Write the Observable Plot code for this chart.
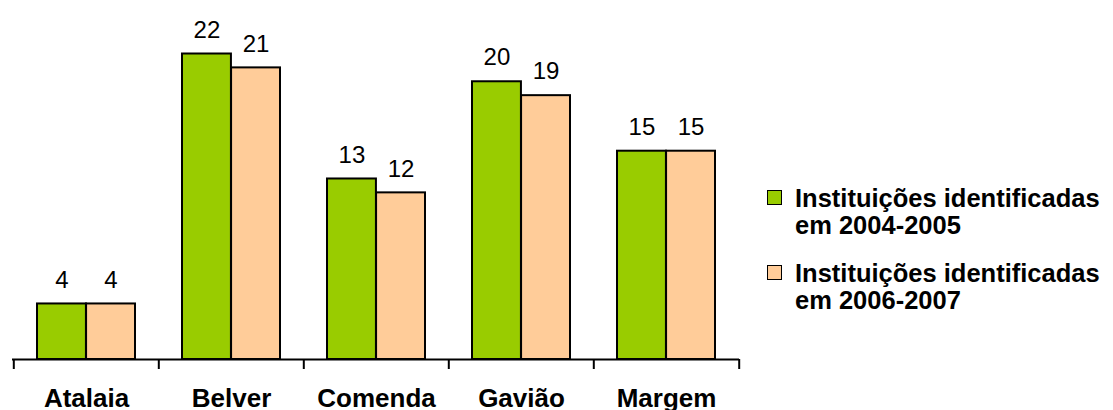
<!DOCTYPE html>
<html>
<head>
<meta charset="utf-8">
<script src="https://cdn.jsdelivr.net/npm/d3@7"></script>
<script src="https://cdn.jsdelivr.net/npm/@observablehq/plot@0.6"></script>
<style>
  html, body { margin: 0; padding: 0; background: #fff; }
  #wrap { position: relative; width: 1113px; height: 410px; overflow: hidden; font-family: "Liberation Sans", Arial, sans-serif; }
  #legend { position: absolute; left: 767px; top: 185px; font: bold 25.5px "Liberation Sans", Arial, sans-serif; line-height: 27px; color: #000; }
  .item { position: relative; padding-left: 28px; margin-bottom: 21px; white-space: nowrap; }
  .sw { position: absolute; left: 0; top: 5px; width: 13px; height: 13px; border: 1.5px solid #000; }
</style>
</head>
<body>
<div id="wrap"><div id="legend"></div></div>
<script>
const categories = ["Atalaia", "Belver", "Comenda", "Gavião", "Margem"];
const seriesNames = ["Instituições identificadas em 2004-2005", "Instituições identificadas em 2006-2007"];
const values2004 = [4, 22, 13, 20, 15];
const values2006 = [4, 21, 12, 19, 15];
const seriesColors = ["#99CC00", "#FFCC99"];

const data = categories.map((c, i) => ({category: c, v1: values2004[i], v2: values2006[i]}));

const W = 1113, H = 410;
const mLeft = 12, mRight = 374, mTop = 53.5, mBottom = 51;
const padIn = 0.325, padOut = 0.1625;

let bw, step;
try {
  const xs = Plot.scale({x: {type: "band", domain: categories, range: [mLeft, W - mRight], paddingInner: padIn, paddingOuter: padOut}});
  bw = xs.bandwidth; step = xs.step;
} catch (e) {}
if (!(bw > 0)) {
  step = (W - mLeft - mRight) / (categories.length - padIn + 2 * padOut);
  bw = step * (1 - padIn);
}

const plot = Plot.plot({
  width: W,
  height: H,
  marginLeft: mLeft,
  marginRight: mRight,
  marginTop: mTop,
  marginBottom: mBottom,
  style: {fontFamily: "'Liberation Sans', Arial, sans-serif", fontSize: "26px", fontWeight: "bold", color: "#000", background: "transparent", overflow: "visible"},
  x: {domain: categories, paddingInner: padIn, paddingOuter: padOut, align: 0.5, tickSize: 0, tickPadding: 29, label: null},
  y: {domain: [0, 22], axis: null},
  marks: [
    Plot.barY(data, {x: "category", y: "v1", fill: seriesColors[0], stroke: "#000", strokeWidth: 2, insetRight: bw / 2}),
    Plot.barY(data, {x: "category", y: "v2", fill: seriesColors[1], stroke: "#000", strokeWidth: 2, insetLeft: bw / 2}),
    Plot.ruleY([0], {stroke: "#000", strokeWidth: 2}),
    Plot.ruleX(categories, {x: d => d, y1: 0, y2: 0, dx: -step / 2, insetBottom: -10, stroke: "#000", strokeWidth: 2}),
    Plot.ruleX(categories.slice(-1), {x: d => d, y1: 0, y2: 0, dx: step / 2, insetBottom: -10, stroke: "#000", strokeWidth: 2}),
    Plot.text(data, {x: "category", y: "v1", text: d => String(d.v1), dx: -bw / 4, dy: -24, fontSize: 24, fontWeight: "normal", fill: "#000"}),
    Plot.text(data, {x: "category", y: "v2", text: d => String(d.v2), dx: bw / 4, dy: -24, fontSize: 24, fontWeight: "normal", fill: "#000"})
  ]
});
const wrap = document.getElementById("wrap");
wrap.insertBefore(plot, wrap.firstChild);

const legend = document.getElementById("legend");
seriesNames.forEach((name, i) => {
  const item = document.createElement("div");
  item.className = "item";
  const sw = document.createElement("span");
  sw.className = "sw";
  sw.style.background = seriesColors[i];
  item.appendChild(sw);
  const parts = name.split(" em ");
  item.appendChild(document.createTextNode(parts[0]));
  item.appendChild(document.createElement("br"));
  item.appendChild(document.createTextNode("em " + parts[1]));
  legend.appendChild(item);
});
</script>
</body>
</html>
